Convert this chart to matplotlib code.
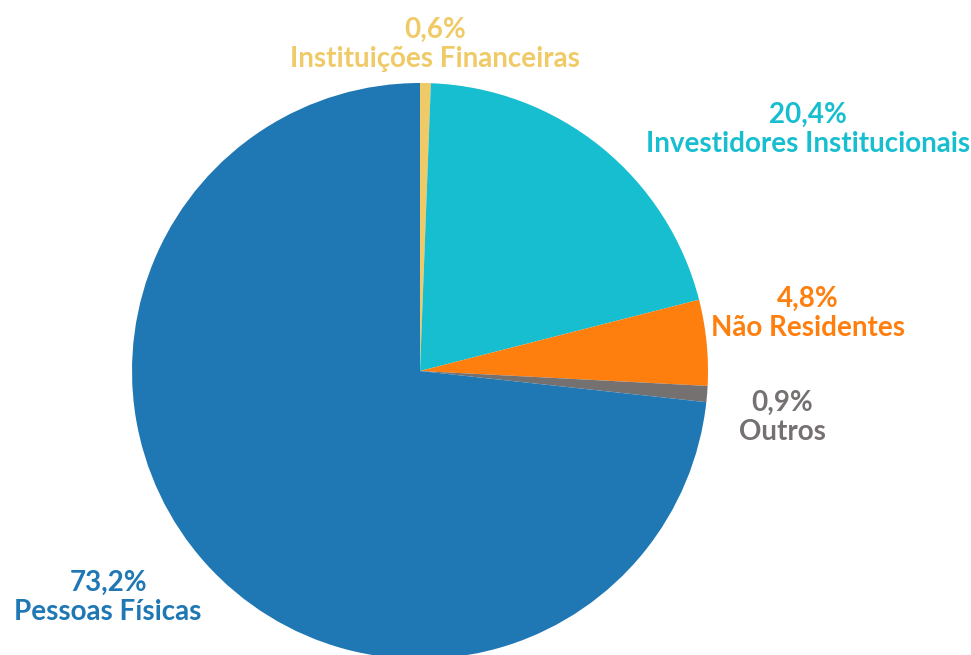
import matplotlib.pyplot as plt

categorias = ['Instituições Financeiras', 'Investidores Institucionais',
              'Não Residentes', 'Outros', 'Pessoas Físicas']
valores = [0.6, 20.4, 4.8, 0.9, 73.2]
cores = ['#efca66', '#17becf', '#ff7f0e', '#767171', '#1f77b4']

# posicao dos rotulos (em unidades do raio)
pos_rotulos = [(0.052, 1.135), (1.347, 0.84), (1.347, 0.2),
               (1.257, -0.16), (-1.083, -0.786)]

plt.rcParams['font.family'] = ['Lato', 'DejaVu Sans']

fig = plt.figure(figsize=(9.71, 6.55), dpi=100)
ax = fig.add_axes([(420 - 288) / 971, (655 - 371 - 288) / 655, 576 / 971, 576 / 655])
ax.pie(valores, colors=cores, startangle=90, counterclock=False, radius=1,
       wedgeprops=dict(linewidth=0))
ax.set_xlim(-1, 1)
ax.set_ylim(-1, 1)
ax.set_aspect('equal')
ax.axis('off')

for cat, v, c, (x, y) in zip(categorias, valores, cores, pos_rotulos):
    txt = ('%.1f%%' % v).replace('.', ',') + '\n' + cat
    ax.text(x, y, txt, ha='center', va='center', color=c, fontsize=20,
            fontweight='bold', linespacing=1.15, clip_on=False)

fig.savefig('out.png', dpi=100)
